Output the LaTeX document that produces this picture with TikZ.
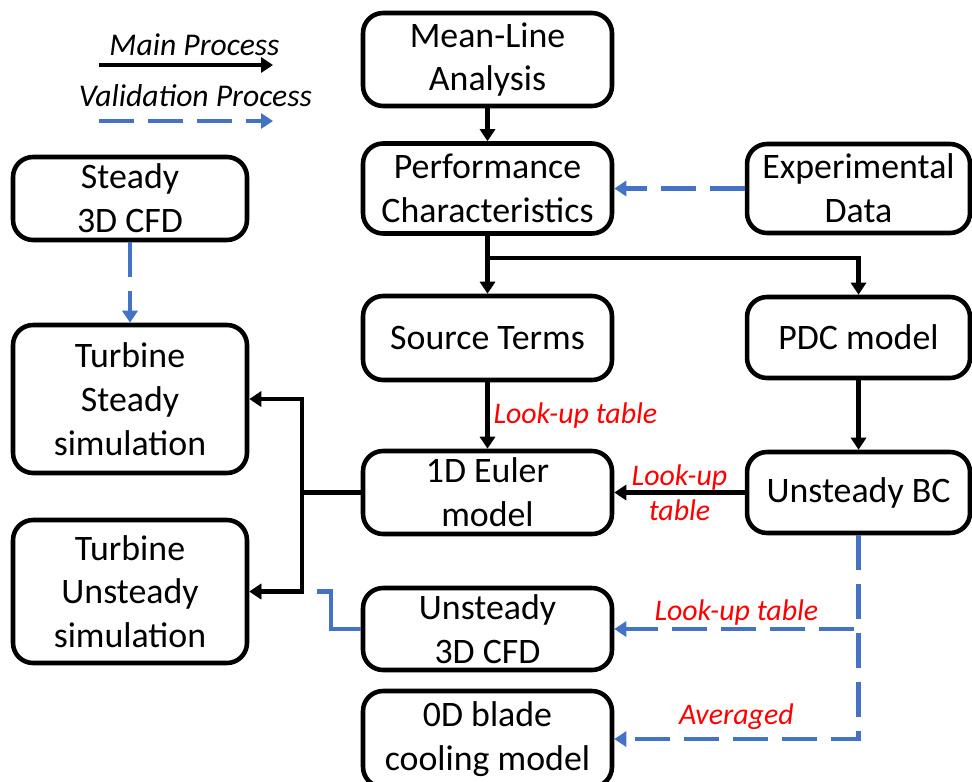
\documentclass[tikz,border=0pt]{standalone}
\usepackage{fontspec}
\setmainfont{Carlito}
\usetikzlibrary{arrows.meta}
\definecolor{valblue}{RGB}{68,114,196}

\tikzset{
  box/.style={draw, line width=2.6pt, rounded corners=0.4cm, align=center, inner sep=0pt,
    font=\fontsize{20.4}{24.9}\selectfont},
  mainarrow/.style={line width=2.3pt, -{Triangle[length=0.24cm,width=0.3cm]}},
  validarrow/.style={valblue, line width=2.3pt, dash pattern=on 0.7cm off 0.28cm,
    -{Triangle[length=0.24cm,width=0.3cm]}},
  redlabel/.style={red, inner sep=0pt, align=center, font=\fontsize{17}{20}\selectfont\itshape},
  legendtext/.style={inner sep=0pt, font=\fontsize{18}{21}\selectfont\itshape},
}

\begin{document}
\begin{tikzpicture}[x=0.02cm, y=-0.02cm]
\useasboundingbox (0,0) rectangle (972,781);

% legend
\node[legendtext, anchor=base] (mainlbl) at (194.5,55) {Main Process};
\node[legendtext, anchor=base] (validlbl) at (195.5,106) {Validation Process};
\coordinate (mainA) at (99,65);
\coordinate (mainB) at (273,65);
\coordinate (validA) at (99,121);
\coordinate (validB) at (273,121);
\draw[mainarrow] (mainA) -- (mainB);
\draw[validarrow] (validA) -- (validB);

% middle column
\node[box, minimum width=4.98cm, minimum height=1.86cm] (mla) at (487.5,59.5) {Mean-Line\\Analysis};
\node[box, minimum width=4.98cm, minimum height=1.80cm] (perf) at (487.5,188.5) {Performance\\Characteristics};
\node[box, minimum width=4.98cm, minimum height=1.68cm] (src) at (487.5,338) {Source Terms};
\node[box, minimum width=4.98cm, minimum height=1.66cm] (euler) at (487.5,492.5) {1D Euler\\model};
\node[box, minimum width=4.98cm, minimum height=1.64cm] (ucfd) at (487.5,629) {Unsteady\\3D CFD};
\node[box, minimum width=4.98cm, minimum height=1.92cm] (blade) at (487.5,739) {0D blade\\cooling model};

% right column
\node[box, minimum width=4.46cm, minimum height=1.78cm] (exp) at (858.5,188.5) {Experimental\\Data};
\node[box, minimum width=4.46cm, minimum height=1.62cm] (pdc) at (858.5,337.5) {PDC model};
\node[box, minimum width=4.46cm, minimum height=1.62cm] (ubc) at (858.5,492.5) {Unsteady BC};

% left column
\node[box, minimum width=4.68cm, minimum height=1.66cm] (scfd) at (130,198.5) {Steady\\3D CFD};
\node[box, minimum width=4.68cm, minimum height=2.96cm] (tsteady) at (130,399) {Turbine\\Steady\\simulation};
\node[box, minimum width=4.68cm, minimum height=2.86cm] (tunsteady) at (130,591.5) {Turbine\\Unsteady\\simulation};

% validation connectors
\draw[validarrow] (exp.west) -- (perf.east);
\draw[validarrow] (scfd.south) -- (tsteady.north);
\draw[validarrow, dash pattern=on 1.63cm off 0.28cm] (ucfd.west) -- ++(-30,0) |- (tunsteady.east);
\draw[validarrow] (ubc.south) |- node[pos=0.75, redlabel, above=0.04cm] {Look-up table} (ucfd.east);
\draw[validarrow] (ubc.south) |- node[pos=0.75, redlabel, above=0.15cm] {Averaged} (blade.east);

% main connectors
\coordinate (split) at (487.5,258);
\draw[mainarrow] (mla.south) -- (perf.north);
\draw[mainarrow] (perf.south) -- (src.north);
\draw[mainarrow] (split) -| (pdc.north);
\draw[mainarrow] (src.south) -- node[redlabel, right=0.08cm] {Look-up table} (euler.north);
\draw[mainarrow] (pdc.south) -- (ubc.north);
\draw[mainarrow] (ubc.west) -- node[redlabel] {Look-up\\table} (euler.east);
\draw[mainarrow] (euler.west) -- ++(-59,0) |- (tsteady.east);
\draw[mainarrow] (euler.west) -- ++(-59,0) |- (tunsteady.east);
\end{tikzpicture}
\end{document}
